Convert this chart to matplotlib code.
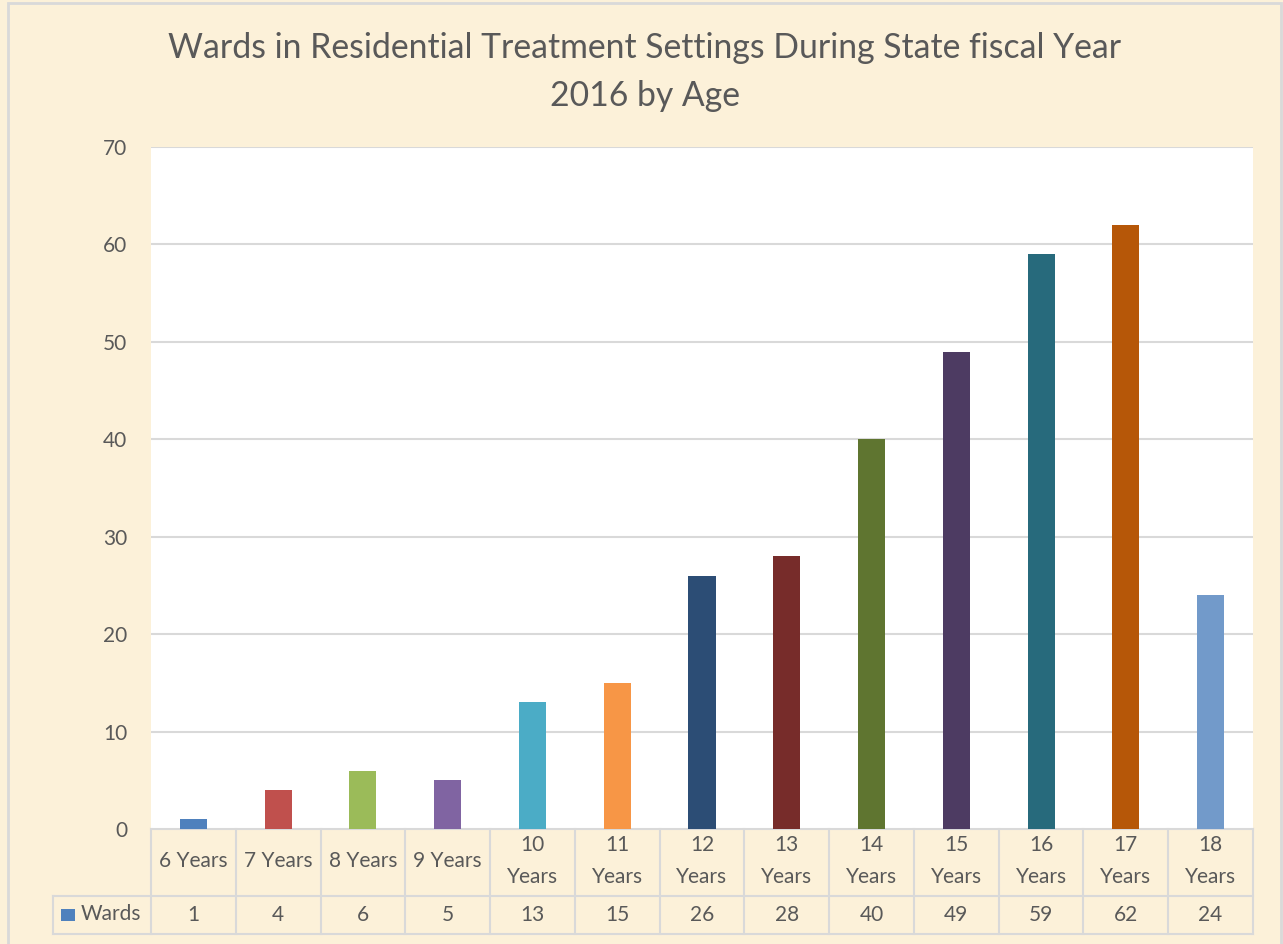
import matplotlib
matplotlib.use("Agg")
import matplotlib.pyplot as plt
import matplotlib.transforms as mtransforms
from matplotlib.patches import Rectangle

# data
ages = ["6 Years", "7 Years", "8 Years", "9 Years", "10\nYears", "11\nYears", "12\nYears",
        "13\nYears", "14\nYears", "15\nYears", "16\nYears", "17\nYears", "18\nYears"]
wards = [1, 4, 6, 5, 13, 15, 26, 28, 40, 49, 59, 62, 24]
bar_colors = ["#4F81BD", "#C0504D", "#9BBB59", "#8064A2", "#4BACC6", "#F79646", "#2C4D75",
              "#772C2A", "#5F7530", "#4D3B62", "#276A7C", "#B65708", "#729ACA"]
series_name = "Wards"
title = "Wards in Residential Treatment Settings During State fiscal Year\n2016 by Age"

TEXT = "#595959"
GRID = "#D9D9D9"
BG = "#FCF1D9"
plt.rcParams['font.family'] = ['Lato', 'DejaVu Sans']

fig = plt.figure(figsize=(12.83, 9.44), dpi=100, facecolor=BG)
ax = fig.add_axes([151/1283, 1 - 829/944, 1102/1283, 682/944])
ax.set_facecolor("white")

x = list(range(len(wards)))
ax.bar(x, wards, width=0.32, color=bar_colors, zorder=3)

ax.set_xlim(-0.5, len(wards) - 0.5)
ax.set_ylim(0, 70)
ax.set_yticks(range(0, 71, 10))
ax.tick_params(axis='y', length=0, pad=17, labelsize=15, labelcolor=TEXT)
ax.set_xticks([])
for s in ax.spines.values():
    s.set_visible(False)
for v in range(10, 71, 10):
    ax.axhline(v, color=GRID, lw=1.5, zorder=1)

# data table under the plot
tr = mtransforms.blended_transform_factory(ax.transData, ax.transAxes)
row1 = -67 / 682
row2 = -105 / 682
head_left = -0.5 - 98 / (1102 / 13)
lkw = dict(color=GRID, lw=1.5, transform=tr, clip_on=False)
ax.plot([-0.5, 12.5], [0, 0], **lkw)
ax.plot([head_left, 12.5], [row1, row1], **lkw)
ax.plot([head_left, 12.5], [row2, row2], **lkw)
ax.plot([head_left, head_left], [row1, row2], **lkw)
for i in range(len(wards) + 1):
    ax.plot([i - 0.5, i - 0.5], [0, row2], **lkw)
for i, (lab, val) in enumerate(zip(ages, wards)):
    ax.text(i, row1 / 2 + 0.002, lab, transform=tr, ha='center', va='center', fontsize=15,
            color=TEXT, linespacing=1.75)
    ax.text(i, (row1 + row2) / 2, str(val), transform=tr, ha='center', va='center',
            fontsize=15, color=TEXT)

# legend key in the header cell
fig.add_artist(Rectangle((61/1283, 1 - 921/944), 14/1283, 12/944, transform=fig.transFigure,
                         facecolor=bar_colors[0], edgecolor='none'))
fig.text(81/1283, 1 - 914/944, series_name, ha='left', va='center', fontsize=15, color=TEXT)

fig.text(645/1283, 1 - 72/944, title, ha='center', va='center', fontsize=24.3, color=TEXT,
         linespacing=1.6)

# outer border
fig.add_artist(Rectangle((8/1283, -0.01), 1273/1283, 1 - 3/944 + 0.01, transform=fig.transFigure,
                         facecolor='none', edgecolor=GRID, lw=2))

fig.savefig("out.png", dpi=100, facecolor=BG)
